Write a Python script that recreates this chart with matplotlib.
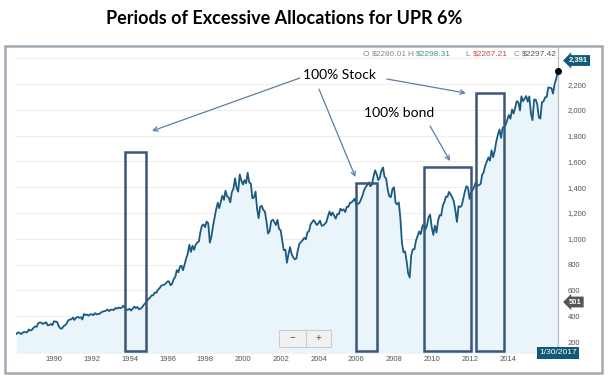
import numpy as np
import pandas as pd
import matplotlib
matplotlib.use('Agg')
import matplotlib.pyplot as plt
import matplotlib.transforms as mtransforms
from matplotlib.patches import Rectangle

plt.rcParams['font.family'] = ['Liberation Sans', 'DejaVu Sans']

# --- Data (month-end index levels) ---
START_MONTH = '1988-05-31'
levels = [
    262, 274, 272, 262, 272, 279, 274, 278,                          # 1988 May-Dec
    297, 289, 295, 310, 321, 318, 346, 351, 349, 340, 346, 353,      # 1989
    329, 332, 340, 331, 361, 358, 356, 323, 306, 304, 322, 330,      # 1990
    344, 367, 375, 375, 390, 371, 388, 395, 388, 392, 375, 417,      # 1991
    409, 413, 404, 415, 415, 408, 424, 414, 418, 419, 431, 436,      # 1992
    439, 443, 452, 440, 450, 451, 448, 464, 459, 468, 462, 466,      # 1993
    482, 467, 446, 451, 457, 444, 458, 475, 463, 472, 454, 459,      # 1994
    470, 487, 501, 515, 533, 545, 562, 562, 584, 582, 605, 616,      # 1995
    636, 640, 645, 654, 669, 671, 640, 652, 687, 705, 757, 741,      # 1996
    786, 791, 757, 801, 848, 885, 954, 899, 947, 915, 955, 970,      # 1997
    980, 1049, 1102, 1112, 1091, 1134, 1121, 970, 1017, 1099, 1164, 1229,   # 1998
    1280, 1238, 1286, 1335, 1302, 1373, 1329, 1320, 1283, 1363, 1389, 1469, # 1999
    1394, 1366, 1499, 1452, 1421, 1455, 1431, 1512, 1437, 1429, 1315, 1320, # 2000
    1366, 1240, 1160, 1249, 1256, 1224, 1211, 1134, 1041, 1060, 1139, 1148, # 2001
    1130, 1107, 1147, 1077, 1067, 990, 912, 916, 815, 886, 936, 880,        # 2002
    856, 841, 848, 917, 964, 975, 990, 1008, 996, 1051, 1058, 1112,         # 2003
    1131, 1145, 1126, 1107, 1121, 1141, 1102, 1104, 1115, 1130, 1174, 1212, # 2004
    1181, 1204, 1181, 1157, 1192, 1191, 1234, 1220, 1229, 1207, 1249, 1248, # 2005
    1280, 1281, 1295, 1311, 1270, 1270, 1277, 1304, 1336, 1378, 1401, 1418, # 2006
    1438, 1407, 1421, 1482, 1531, 1503, 1455, 1474, 1527, 1554, 1481, 1468, # 2007
    1379, 1331, 1323, 1386, 1400, 1280, 1267, 1283, 1165, 969, 896, 903,    # 2008
    826, 735, 700, 873, 919, 919, 987, 1021, 1057, 1036, 1096, 1115,        # 2009
    1074, 1104, 1169, 1187, 1089, 1031, 1102, 1049, 1141, 1183, 1181, 1258, # 2010
    1286, 1327, 1326, 1364, 1345, 1321, 1292, 1219, 1131, 1253, 1247, 1258, # 2011
    1312, 1366, 1408, 1398, 1310, 1362, 1379, 1407, 1441, 1412, 1416, 1426, # 2012
    1498, 1515, 1569, 1598, 1631, 1606, 1686, 1633, 1682, 1757, 1806, 1848, # 2013
    1783, 1859, 1872, 1884, 1924, 1960, 1931, 2003, 1972, 2018, 2068, 2059, # 2014
    1995, 2105, 2068, 2086, 2107, 2063, 2104, 1972, 1920, 2079, 2080, 2044, # 2015
    1940, 1932, 2060, 2065, 2097, 2099, 2174, 2171, 2168, 2126, 2199, 2239, # 2016
]
LAST_DATE = '2017-01-30'
LAST_CLOSE = 2297.42

year_ticks = list(range(1990, 2015, 2))
value_ticks = list(range(200, 2201, 200))

# highlighted periods: (start year, end year, box top level)
periods = [(1994.18, 1995.29, 1673), (2006.42, 2007.53, 1435),
           (2010.02, 2012.51, 1559), (2012.76, 2014.21, 2130)]
box_floor = 130

ohlc = [('O', '$2286.01', '#8a8a8a'), ('H', '$2298.31', '#4a9a72'),
        ('L', '$2267.21', '#c8504a'), ('C', '$2297.42', '#555555')]
tag_high = 2391
tag_low = 501

dates = pd.date_range(START_MONTH, periods=len(levels), freq='ME').append(pd.DatetimeIndex([LAST_DATE]))
vals = np.array(levels + [LAST_CLOSE], dtype=float)
t = dates.year + (dates.dayofyear - 1) / 365.25

# --- Figure ---
W, H = 611, 383
fig = plt.figure(figsize=(W / 100, H / 100), dpi=100)
fig.patch.set_facecolor('white')

def fy(py):
    return 1 - py / H

line_color = '#1b5b80'
fill_color = '#eaf5fb'
box_color = '#3b5676'
arrow_color = '#5b7fa6'
tag_color = '#105a78'

ax = fig.add_axes([16 / W, 1 - 353 / H, (557.7 - 16) / W, (353 - 46) / H])
ax.fill_between(t, vals, 0, color=fill_color, lw=0, zorder=1)
ax.plot(t, vals, color=line_color, lw=1.3, zorder=3)
ax.plot(t[-1], vals[-1], 'o', color='black', ms=4, zorder=5, clip_on=False)

ax.set_xlim(1988.4, t[-1])
ax.set_ylim(115, 2495)

for s in ['top', 'left', 'bottom']:
    ax.spines[s].set_visible(False)
ax.spines['right'].set_color('#b8bec4')
ax.spines['right'].set_linewidth(0.9)

ax.yaxis.tick_right()
ax.set_yticks(value_ticks)
ax.set_yticklabels([f'{v:,}' for v in value_ticks])
ax.set_xticks(year_ticks)
ax.set_xticklabels([str(y) for y in year_ticks])
ax.tick_params(axis='y', length=0, pad=7, labelsize=5.5, labelcolor='#555555')
ax.tick_params(axis='x', length=0, pad=2, labelsize=5.5, labelcolor='#555555')
shift = mtransforms.ScaledTranslation(8 / 100, 0, fig.dpi_scale_trans)
for lab in ax.get_xticklabels():
    lab.set_transform(lab.get_transform() + shift)
ax.grid(axis='y', color='#eeeeee', lw=0.8, zorder=0)
ax.axhline(2400, color='#eeeeee', lw=0.8, zorder=0)
ax.set_axisbelow(True)

# highlighted boxes
for t0, t1, top in periods:
    ax.add_patch(Rectangle((t0, box_floor), t1 - t0, top - box_floor, fill=False,
                           ec=box_color, lw=1.8, zorder=4, clip_on=False))

# annotations
ax.text(2005.55, 2270, '100% Stock', ha='center', va='center', fontsize=10,
        family='Lato', color='black', zorder=6)
ax.text(2008.70, 1978, '100% bond', ha='center', va='center', fontsize=10,
        family='Lato', color='black', zorder=6)
arrows = [((2003.43, 2247), (1995.6, 1836)),
          ((2004.44, 2161), (2006.37, 1479)),
          ((2008.04, 2239), (2012.22, 2130)),
          ((2010.32, 1875), (2011.38, 1603))]
for tail, head in arrows:
    ax.annotate('', xy=head, xytext=tail,
                arrowprops=dict(arrowstyle='->', color=arrow_color, lw=0.9,
                                shrinkA=0, shrinkB=0, mutation_scale=8), zorder=6)

# --- figure-level decorations ---
fig.text(284 / W, fy(18), 'Periods of Excessive Allocations for UPR 6%', ha='center',
         va='center', fontsize=13, fontweight='bold', family='Lato')

fig.patches.append(Rectangle((4.5 / W, fy(373)), (602 - 4.5) / W, (373 - 45.7) / H,
                             transform=fig.transFigure, fill=False, ec='#a0aab5', lw=1.8))

# OHLC read-out: grey letter followed by coloured value
ohlc_x = [362.7, 407.3, 465, 513.3]
for (letter, value, col), xl in zip(ohlc, ohlc_x):
    lt = fig.text(xl / W, fy(54), letter, ha='left', va='center', fontsize=6, color='#8a8a8a')
    ax.annotate(value, xy=(1, 0.5), xycoords=lt, xytext=(2, 0),
                textcoords='offset points', ha='left', va='center', fontsize=6,
                color=col, annotation_clip=False)

# price tags on the right axis
fig.text(569 / W, fy(60.5), f'{tag_high:,}', ha='left', va='center', fontsize=5.5,
         fontweight='bold', color='white',
         bbox=dict(boxstyle='larrow,pad=0.25', fc=tag_color, ec='none'))
fig.text(569 / W, fy(302), f'{tag_low:,}', ha='left', va='center', fontsize=5.5,
         fontweight='bold', color='white',
         bbox=dict(boxstyle='larrow,pad=0.25', fc='#555555', ec='none'))
fig.text(558 / W, fy(352.5), '1/30/2017', ha='center', va='center', fontsize=6,
         color='white', bbox=dict(boxstyle='square,pad=0.3', fc=tag_color, ec='none'))

# zoom buttons
fig.patches.append(Rectangle((279 / W, fy(347)), 52 / W, 17 / H, transform=fig.transFigure,
                             fc='#f1f1f1', ec='#cccccc', lw=0.8, zorder=5))
fig.lines.append(plt.Line2D([305.5 / W, 305.5 / W], [fy(347), fy(330)],
                            transform=fig.transFigure, color='#cccccc', lw=0.8, zorder=6))
fig.text(292 / W, fy(338.5), '\u2212', ha='center', va='center', fontsize=7, color='#555555', zorder=7)
fig.text(318 / W, fy(338.5), '+', ha='center', va='center', fontsize=7, color='#555555', zorder=7)

fig.savefig('out.png', dpi=100)
plt.close(fig)
